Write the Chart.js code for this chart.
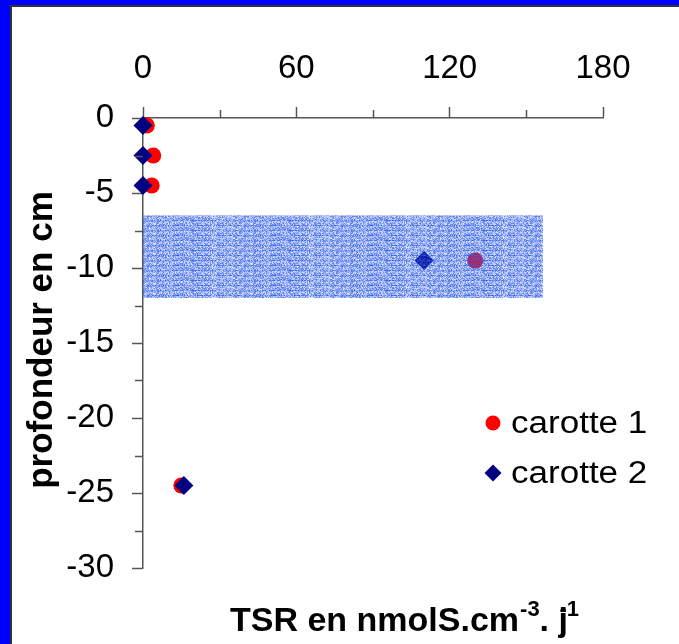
<!DOCTYPE html>
<html><head><meta charset="utf-8">
<script src="https://cdn.jsdelivr.net/npm/chart.js@4.4.0/dist/chart.umd.min.js"></script>
<style>html,body{margin:0;padding:0;background:#fff;overflow:hidden}canvas{display:block}</style>
</head><body>
<canvas id="c" width="679" height="644"></canvas>
<script>
// ---- data ----
const seriesNames = ['carotte 1', 'carotte 2'];
const depth1 = [-0.5, -2.5, -4.5, -9.5, -24.5];
const tsr1   = [1.5, 4, 3.4, 130, 15];
const depth2 = [-0.5, -2.5, -4.5, -9.5, -24.5];
const tsr2   = [0, 0, 0, 110, 16];
const xTicks = [0, 60, 120, 180];
const xMinorTicks = [30, 90, 150];
const yTicks = [0, -5, -10, -15, -20, -25, -30];
const yMinorTicks = [-2.5, -7.5, -12.5, -17.5, -22.5, -27.5];
const bandX = [0, 156.5];
const bandY = [-6.5, -12];
const xTitleParts = ['TSR en nmolS.cm', '-3', '. j', '-1'];
const yTitle = 'profondeur en cm';

const FONT = 'Liberation Sans, Arial, sans-serif';
const AXIS = '#555555';

function hash(i, j) {
  let h = (Math.imul(i, 374761393) + Math.imul(j, 668265263)) | 0;
  h = Math.imul(h ^ (h >>> 13), 1274126177);
  h ^= h >>> 16;
  h = Math.imul(h, 2246822519);
  h ^= h >>> 13;
  return (h >>> 0) / 4294967295;
}
function makePattern(ctx) {
  const W = 97, H = 10;
  const c = document.createElement('canvas'); c.width = W; c.height = H;
  const g = c.getContext('2d');
  const img = g.createImageData(W, H);
  for (let j = 0; j < H; j++) for (let i = 0; i < W; i++) {
    const r = hash(i + 11, j + 29);
    let a = 0.15 + 0.7 * r;
    if (j % 5 === 0) a = Math.min(1, a + 0.18);
    const k = (j * W + i) * 4;
    img.data[k] = 50; img.data[k + 1] = 95; img.data[k + 2] = 235; img.data[k + 3] = Math.round(a * 255);
  }
  g.putImageData(img, 0, 0);
  return ctx.createPattern(c, 'repeat');
}

const framePlugin = {
  id: 'frame',
  beforeDraw(chart) {
    const ctx = chart.ctx;
    ctx.save();
    ctx.fillStyle = '#ffffff'; ctx.fillRect(0, 0, chart.width, chart.height);
    ctx.fillStyle = '#0000ff';
    ctx.fillRect(0, 0, chart.width, 5);
    ctx.fillRect(0, 0, 10, chart.height);
    ctx.fillStyle = '#333333';
    ctx.fillRect(10, 5, 2, chart.height);
    ctx.fillRect(10, 5, chart.width, 2);
    ctx.restore();
  }
};

const bandPlugin = {
  id: 'band',
  afterDatasetsDraw(chart) {
    const { ctx, scales: { x, y } } = chart;
    const x0 = x.getPixelForValue(bandX[0]), x1 = x.getPixelForValue(bandX[1]);
    const y0 = y.getPixelForValue(bandY[0]), y1 = y.getPixelForValue(bandY[1]);
    ctx.save();
    ctx.fillStyle = makePattern(ctx);
    ctx.fillRect(x0, y0, x1 - x0, y1 - y0);
    ctx.restore();
  }
};

const minorTickPlugin = {
  id: 'minorTicks',
  afterDraw(chart) {
    const { ctx, chartArea: a, scales: { x, y } } = chart;
    ctx.save();
    ctx.strokeStyle = AXIS; ctx.lineWidth = 1.5;
    ctx.beginPath();
    xMinorTicks.forEach(v => { const px = Math.round(x.getPixelForValue(v)) + 0.5; ctx.moveTo(px, a.top); ctx.lineTo(px, a.top - 8); });
    yMinorTicks.forEach(v => { const py = Math.round(y.getPixelForValue(v)) + 0.5; ctx.moveTo(a.left, py); ctx.lineTo(a.left - 8, py); });
    ctx.stroke();
    ctx.restore();
  }
};

const titlePlugin = {
  id: 'titles',
  afterDraw(chart) {
    const ctx = chart.ctx;
    ctx.save();
    ctx.fillStyle = '#000';
    ctx.textBaseline = 'alphabetic';
    ctx.textAlign = 'left';
    const big = 'bold 34px ' + FONT, small = 'bold 22px ' + FONT;
    let xp = 230; const base = 631, sup = base - 15;
    ctx.font = big; ctx.fillText(xTitleParts[0], xp, base); xp += ctx.measureText(xTitleParts[0]).width;
    ctx.font = small; ctx.fillText(xTitleParts[1], xp + 1, sup); xp += ctx.measureText(xTitleParts[1]).width + 1;
    ctx.font = big; ctx.fillText(xTitleParts[2], xp, base);
    const jx = xp + ctx.measureText(xTitleParts[2]).width - ctx.measureText('j').width;
    ctx.font = small; ctx.fillText(xTitleParts[3], jx + 1, sup);
    // y title
    ctx.translate(52, 340);
    ctx.rotate(-Math.PI / 2);
    ctx.textAlign = 'center';
    ctx.font = 'bold 35px ' + FONT;
    ctx.fillText(yTitle, 0, 0);
    ctx.restore();
  }
};

const legendPlugin = {
  id: 'customLegend',
  afterDraw(chart) {
    const ctx = chart.ctx;
    const rows = [{ y: 424, ds: 0 }, { y: 474, ds: 1 }];
    ctx.save();
    rows.forEach(r => {
      const ds = chart.data.datasets[r.ds];
      ctx.fillStyle = ds.backgroundColor;
      ctx.beginPath();
      if (ds.pointStyle === 'circle') ctx.arc(493, r.y - 1, 7.5, 0, Math.PI * 2);
      else { ctx.moveTo(484.5, r.y - 1); ctx.lineTo(493, r.y - 9.5); ctx.lineTo(501.5, r.y - 1); ctx.lineTo(493, r.y + 7.5); ctx.closePath(); }
      ctx.fill();
      ctx.save();
      ctx.translate(511, r.y);
      ctx.scale(1.13, 1);
      ctx.fillStyle = '#000';
      ctx.font = '31px ' + FONT;
      ctx.textBaseline = 'middle';
      ctx.fillText(ds.label, 0, 0);
      ctx.restore();
    });
    ctx.restore();
  }
};

const ctx = document.getElementById('c').getContext('2d');
new Chart(ctx, {
  type: 'scatter',
  data: {
    datasets: [
      { label: seriesNames[0], data: tsr1.map((v, i) => ({ x: v, y: depth1[i] })), clip: false,
        pointStyle: 'circle', pointRadius: 8, backgroundColor: '#ff0000', borderColor: '#ff0000', borderWidth: 0, order: 1 },
      { label: seriesNames[1], data: tsr2.map((v, i) => ({ x: v, y: depth2[i] })), clip: false,
        pointStyle: 'rectRot', pointRadius: 9.5, backgroundColor: '#000080', borderColor: '#000080', borderWidth: 0, order: 0 }
    ]
  },
  options: {
    responsive: false, animation: false, devicePixelRatio: 1,
    layout: { padding: { left: 0, top: 0, right: 76, bottom: 76 } },
    plugins: { legend: { display: false }, tooltip: { enabled: false } },
    scales: {
      x: {
        type: 'linear', position: 'top', min: 0, max: 180,
        afterBuildTicks: s => { s.ticks = xTicks.map(v => ({ value: v })); },
        afterFit: s => { s.height = 118; },
        ticks: { font: { family: FONT, size: 33 }, color: '#000', padding: 18, maxRotation: 0, autoSkip: false },
        grid: { drawOnChartArea: false, drawTicks: true, tickLength: 11, tickColor: AXIS, tickWidth: 1.5 },
        border: { color: AXIS, width: 1.5 }
      },
      y: {
        type: 'linear', position: 'left', min: -30, max: 0,
        afterBuildTicks: s => { s.ticks = yTicks.map(v => ({ value: v })); },
        afterFit: s => { s.width = 143; },
        ticks: { font: { family: FONT, size: 33 }, color: '#000', padding: 18, autoSkip: false },
        grid: { drawOnChartArea: false, drawTicks: true, tickLength: 11, tickColor: AXIS, tickWidth: 1.5 },
        border: { color: AXIS, width: 1.5 }
      }
    }
  },
  plugins: [framePlugin, bandPlugin, minorTickPlugin, titlePlugin, legendPlugin]
});
</script>
</body></html>
